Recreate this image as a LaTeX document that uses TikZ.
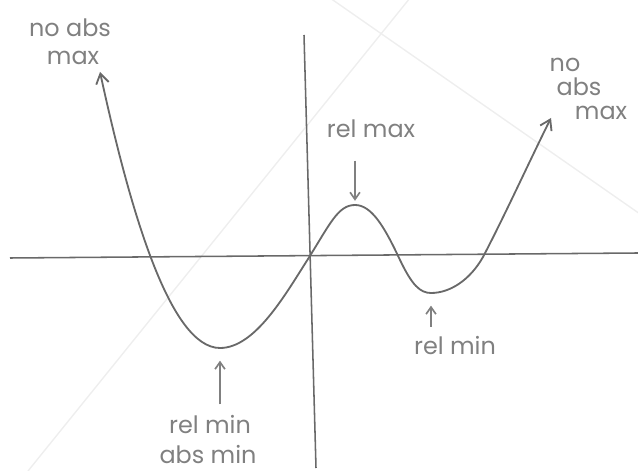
\documentclass[tikz,border=0pt]{standalone}
\usepackage{fontspec}
\setmainfont{Poppins}
\definecolor{pencil}{RGB}{105, 105, 105}
\definecolor{inkGray}{RGB}{128, 128, 128}
\definecolor{paperLine}{RGB}{238, 238, 238}
\usetikzlibrary{positioning, arrows.meta}

\begin{document}
\begin{tikzpicture}[
    x=0.025cm, y=-0.025cm,
    axis/.style={draw=pencil, line width=1.1pt},
    graph/.style={draw=pencil, line width=1.3pt, line join=round,
                  {Straight Barb[length=7pt, width=9pt]}-{Straight Barb[length=7pt, width=9pt]}},
    pointer/.style={draw=inkGray, line width=1.2pt, -{Straight Barb[length=5pt, width=7pt]}},
    lbl/.style={text=inkGray, font=\fontsize{17}{16}\selectfont, inner sep=0pt, align=center},
    crease/.style={draw=paperLine, line width=1pt},
  ]
    \useasboundingbox (0,0) rectangle (638,471);

    % faint lines of the paper
    \draw[crease] (330,-2) -- (640,214);
    \draw[crease] (410,-2) -- (28,471);

    % axes
    \coordinate (xL) at (10,258);
    \coordinate (xR) at (638,253);
    \coordinate (yT) at (304,35);
    \coordinate (yB) at (316,468);
    \draw[axis] (xL) -- (xR);
    \draw[axis] (yT) -- (yB);

    % the graph
    \coordinate (tipL) at (100,72);
    \coordinate (relMinL) at (220,348);
    \coordinate (origin) at (308,259);
    \coordinate (relMax) at (355,205);
    \coordinate (cross) at (400,260);
    \coordinate (relMinR) at (431,293);
    \coordinate (crossR) at (483,257);
    \coordinate (tipR) at (551,118);
    \draw[graph] (tipL) .. controls (130,210) and (170,348) .. (relMinL)
      .. controls (255,348) and (285,295) .. (origin)
      .. controls (330,224) and (338,205) .. (relMax)
      .. controls (372,205) and (385,228) .. (cross)
      .. controls (412,285) and (420,293) .. (relMinR)
      .. controls (450,293) and (470,280) .. (crossR)
      .. controls (505,215) and (530,160) .. (tipR);

    % labels
    \node[lbl] (noL) at (70,28) {no abs};
    \node[lbl] (maxL) at (73,58) {max};
    \node[lbl] (relMaxLbl) at (371,129) {rel max};
    \node[lbl] (noR) at (565,65) {no};
    \node[lbl] (absR) at (579,87) {abs};
    \node[lbl] (maxR) at (601,113) {max};
    \node[lbl] (relMinRLbl) at (455,346) {rel min};
    \node[lbl] (relMinLLbl) at (210,425) {rel min};
    \node[lbl] (absMinLbl) at (208,455) {abs min};

    % pointers
    \draw[pointer] ([yshift=-16pt]relMaxLbl.south -| relMax) -- ([yshift=3pt]relMax);
    \draw[pointer] ([yshift=7pt]relMinRLbl.north -| relMinR) -- ([yshift=-9pt]relMinR);
    \draw[pointer] ([yshift=8pt]relMinLLbl.north -| relMinL) -- ([yshift=-9pt]relMinL);
  \end{tikzpicture}
\end{document}
